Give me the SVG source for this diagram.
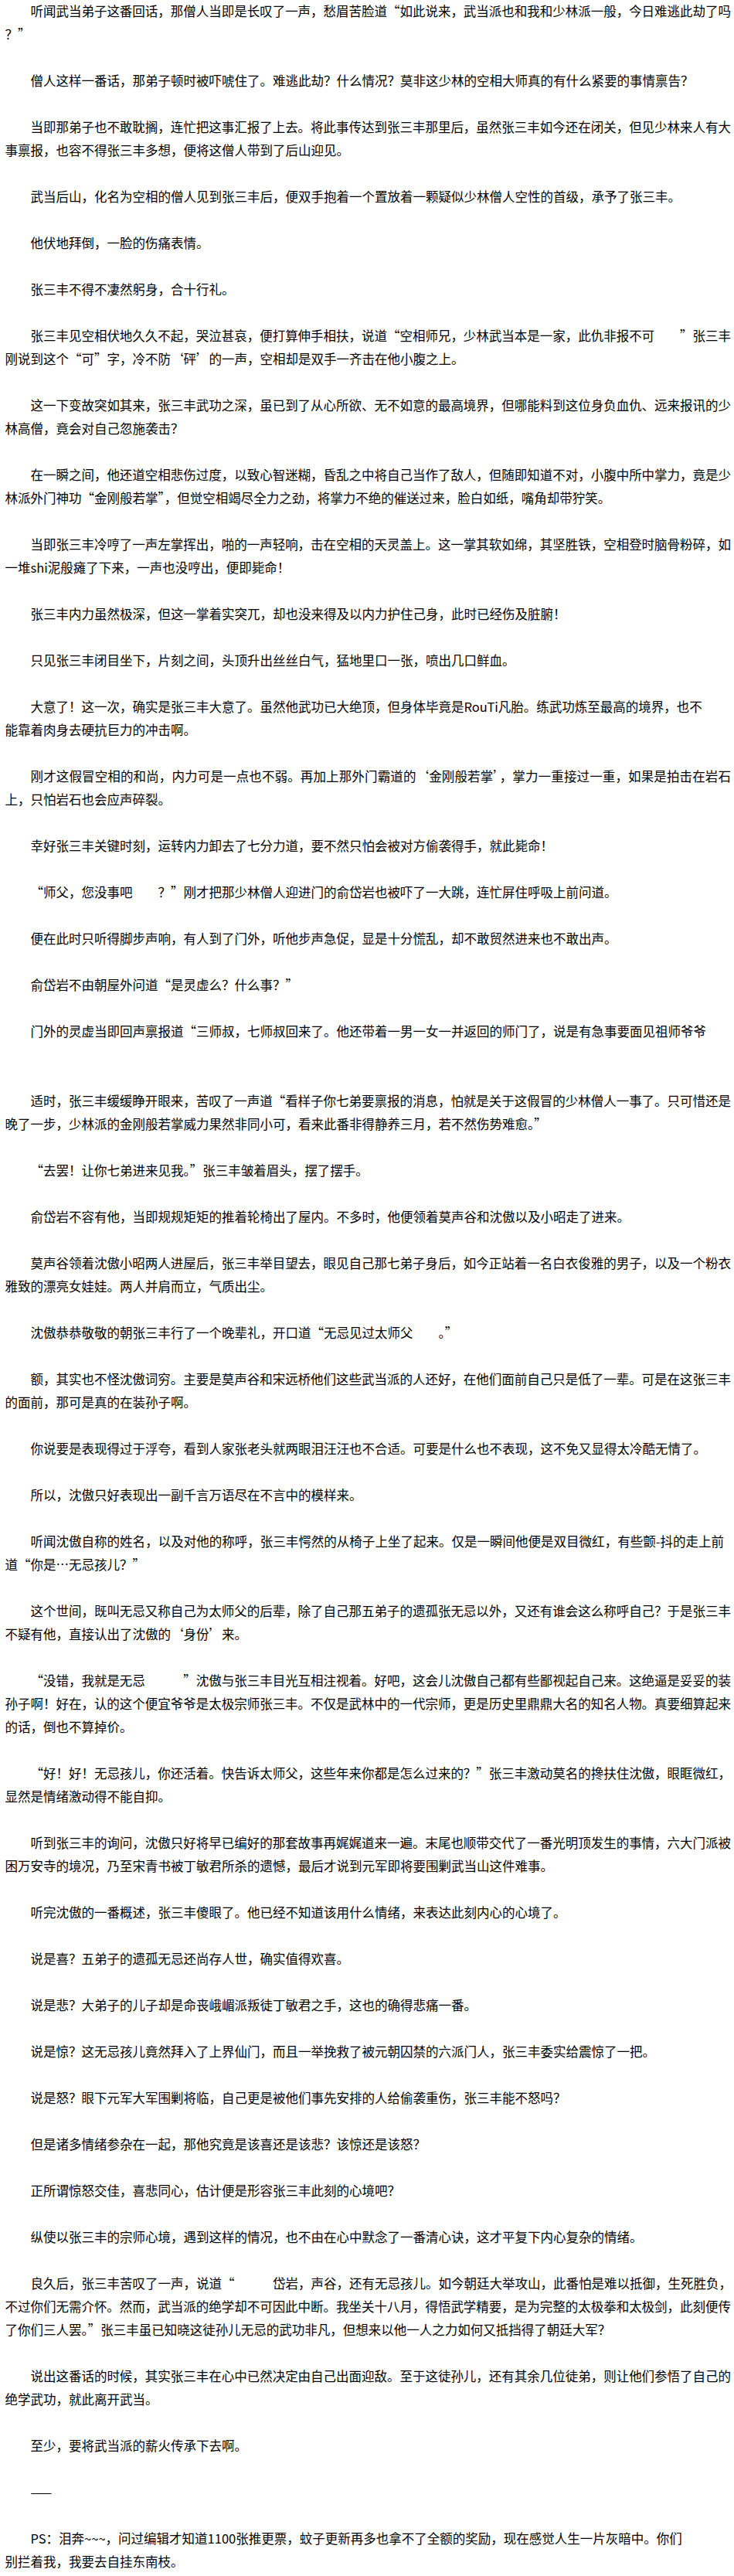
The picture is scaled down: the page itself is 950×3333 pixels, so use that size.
<svg xmlns="http://www.w3.org/2000/svg" width="950" height="3333" viewBox="0 0 950 3333">
<style>
.t{font-family:"Noto Sans CJK SC","Noto Sans CJK JP",sans-serif;font-size:16.5px;fill:#000;}
</style>
<rect x="0" y="0" width="950" height="3333" fill="#fff"/>
<g id="p1"><text class="t" x="39.5" y="21" textLength="906.5">听闻武当弟子这番回话，那僧人当即是长叹了一声，愁眉苦脸道“如此说来，武当派也和我和少林派一般，今日难逃此劫了吗</text><text class="t" x="6.5" y="51">？”</text></g>
<g id="p2"><text class="t" x="39.5" y="111">僧人这样一番话，那弟子顿时被吓唬住了。难逃此劫？什么情况？莫非这少林的空相大师真的有什么紧要的事情禀告？</text></g>
<g id="p3"><text class="t" x="39.5" y="171" textLength="906.5">当即那弟子也不敢耽搁，连忙把这事汇报了上去。将此事传达到张三丰那里后，虽然张三丰如今还在闭关，但见少林来人有大</text><text class="t" x="6.5" y="201">事禀报，也容不得张三丰多想，便将这僧人带到了后山迎见。</text></g>
<g id="p4"><text class="t" x="39.5" y="261">武当后山，化名为空相的僧人见到张三丰后，便双手抱着一个置放着一颗疑似少林僧人空性的首级，承予了张三丰。</text></g>
<g id="p5"><text class="t" x="39.5" y="321">他伏地拜倒，一脸的伤痛表情。</text></g>
<g id="p6"><text class="t" x="39.5" y="381">张三丰不得不凄然躬身，合十行礼。</text></g>
<g id="p7"><text class="t" x="39.5" y="441" textLength="906.5">张三丰见空相伏地久久不起，哭泣甚哀，便打算伸手相扶，说道“空相师兄，少林武当本是一家，此仇非报不可　　”张三丰</text><text class="t" x="6.5" y="471">刚说到这个“可”字，冷不防‘砰’的一声，空相却是双手一齐击在他小腹之上。</text></g>
<g id="p8"><text class="t" x="39.5" y="531" textLength="906.5">这一下变故突如其来，张三丰武功之深，虽已到了从心所欲、无不如意的最高境界，但哪能料到这位身负血仇、远来报讯的少</text><text class="t" x="6.5" y="561">林高僧，竟会对自己忽施袭击？</text></g>
<g id="p9"><text class="t" x="39.5" y="621" textLength="906.5">在一瞬之间，他还道空相悲伤过度，以致心智迷糊，昏乱之中将自己当作了敌人，但随即知道不对，小腹中所中掌力，竟是少</text><text class="t" x="6.5" y="651">林派外门神功“金刚般若掌”，但觉空相竭尽全力之劲，将掌力不绝的催送过来，脸白如纸，嘴角却带狞笑。</text></g>
<g id="p10"><text class="t" x="39.5" y="711" textLength="906.5">当即张三丰冷哼了一声左掌挥出，啪的一声轻响，击在空相的天灵盖上。这一掌其软如绵，其坚胜铁，空相登时脑骨粉碎，如</text><text class="t" x="6.5" y="741">一堆shi泥般瘫了下来，一声也没哼出，便即毙命！</text></g>
<g id="p11"><text class="t" x="39.5" y="801">张三丰内力虽然极深，但这一掌着实突兀，却也没来得及以内力护住己身，此时已经伤及脏腑！</text></g>
<g id="p12"><text class="t" x="39.5" y="861">只见张三丰闭目坐下，片刻之间，头顶升出丝丝白气，猛地里口一张，喷出几口鲜血。</text></g>
<g id="p13"><text class="t" x="39.5" y="921">大意了！这一次，确实是张三丰大意了。虽然他武功已大绝顶，但身体毕竟是RouTi凡胎。练武功炼至最高的境界，也不</text><text class="t" x="6.5" y="951">能靠着肉身去硬抗巨力的冲击啊。</text></g>
<g id="p14"><text class="t" x="39.5" y="1011" textLength="906.5">刚才这假冒空相的和尚，内力可是一点也不弱。再加上那外门霸道的‘金刚般若掌’，掌力一重接过一重，如果是拍击在岩石</text><text class="t" x="6.5" y="1041">上，只怕岩石也会应声碎裂。</text></g>
<g id="p15"><text class="t" x="39.5" y="1101">幸好张三丰关键时刻，运转内力卸去了七分力道，要不然只怕会被对方偷袭得手，就此毙命！</text></g>
<g id="p16"><text class="t" x="39.5" y="1161">“师父，您没事吧　　？”刚才把那少林僧人迎进门的俞岱岩也被吓了一大跳，连忙屏住呼吸上前问道。</text></g>
<g id="p17"><text class="t" x="39.5" y="1221">便在此时只听得脚步声响，有人到了门外，听他步声急促，显是十分慌乱，却不敢贸然进来也不敢出声。</text></g>
<g id="p18"><text class="t" x="39.5" y="1281">俞岱岩不由朝屋外问道“是灵虚么？什么事？”</text></g>
<g id="p19"><text class="t" x="39.5" y="1341">门外的灵虚当即回声禀报道“三师叔，七师叔回来了。他还带着一男一女一并返回的师门了，说是有急事要面见祖师爷爷</text></g>
<g id="p20"><text class="t" x="39.5" y="1431" textLength="906.5">适时，张三丰缓缓睁开眼来，苦叹了一声道“看样子你七弟要禀报的消息，怕就是关于这假冒的少林僧人一事了。只可惜还是</text><text class="t" x="6.5" y="1461">晚了一步，少林派的金刚般若掌威力果然非同小可，看来此番非得静养三月，若不然伤势难愈。”</text></g>
<g id="p21"><text class="t" x="39.5" y="1521">“去罢！让你七弟进来见我。”张三丰皱着眉头，摆了摆手。</text></g>
<g id="p22"><text class="t" x="39.5" y="1581">俞岱岩不容有他，当即规规矩矩的推着轮椅出了屋内。不多时，他便领着莫声谷和沈傲以及小昭走了进来。</text></g>
<g id="p23"><text class="t" x="39.5" y="1641" textLength="906.5">莫声谷领着沈傲小昭两人进屋后，张三丰举目望去，眼见自己那七弟子身后，如今正站着一名白衣俊雅的男子，以及一个粉衣</text><text class="t" x="6.5" y="1671">雅致的漂亮女娃娃。两人并肩而立，气质出尘。</text></g>
<g id="p24"><text class="t" x="39.5" y="1731">沈傲恭恭敬敬的朝张三丰行了一个晚辈礼，开口道“无忌见过太师父　　。”</text></g>
<g id="p25"><text class="t" x="39.5" y="1791" textLength="906.5">额，其实也不怪沈傲词穷。主要是莫声谷和宋远桥他们这些武当派的人还好，在他们面前自己只是低了一辈。可是在这张三丰</text><text class="t" x="6.5" y="1821">的面前，那可是真的在装孙子啊。</text></g>
<g id="p26"><text class="t" x="39.5" y="1881">你说要是表现得过于浮夸，看到人家张老头就两眼泪汪汪也不合适。可要是什么也不表现，这不免又显得太冷酷无情了。</text></g>
<g id="p27"><text class="t" x="39.5" y="1941">所以，沈傲只好表现出一副千言万语尽在不言中的模样来。</text></g>
<g id="p28"><text class="t" x="39.5" y="2001" textLength="897.5">听闻沈傲自称的姓名，以及对他的称呼，张三丰愕然的从椅子上坐了起来。仅是一瞬间他便是双目微红，有些颤-抖的走上前</text><text class="t" x="6.5" y="2031">道“你是…无忌孩儿？”</text></g>
<g id="p29"><text class="t" x="39.5" y="2091" textLength="906.5">这个世间，既叫无忌又称自己为太师父的后辈，除了自己那五弟子的遗孤张无忌以外，又还有谁会这么称呼自己？于是张三丰</text><text class="t" x="6.5" y="2121">不疑有他，直接认出了沈傲的‘身份’来。</text></g>
<g id="p30"><text class="t" x="39.5" y="2181" textLength="906.5">“没错，我就是无忌　　　”沈傲与张三丰目光互相注视着。好吧，这会儿沈傲自己都有些鄙视起自己来。这绝逼是妥妥的装</text><text class="t" x="6.5" y="2211" textLength="939.5">孙子啊！好在，认的这个便宜爷爷是太极宗师张三丰。不仅是武林中的一代宗师，更是历史里鼎鼎大名的知名人物。真要细算起来</text><text class="t" x="6.5" y="2241">的话，倒也不算掉价。</text></g>
<g id="p31"><text class="t" x="39.5" y="2301" textLength="906.5">“好！好！无忌孩儿，你还活着。快告诉太师父，这些年来你都是怎么过来的？”张三丰激动莫名的搀扶住沈傲，眼眶微红，</text><text class="t" x="6.5" y="2331">显然是情绪激动得不能自抑。</text></g>
<g id="p32"><text class="t" x="39.5" y="2391" textLength="906.5">听到张三丰的询问，沈傲只好将早已编好的那套故事再娓娓道来一遍。末尾也顺带交代了一番光明顶发生的事情，六大门派被</text><text class="t" x="6.5" y="2421">困万安寺的境况，乃至宋青书被丁敏君所杀的遗憾，最后才说到元军即将要围剿武当山这件难事。</text></g>
<g id="p33"><text class="t" x="39.5" y="2481">听完沈傲的一番概述，张三丰傻眼了。他已经不知道该用什么情绪，来表达此刻内心的心境了。</text></g>
<g id="p34"><text class="t" x="39.5" y="2541">说是喜？五弟子的遗孤无忌还尚存人世，确实值得欢喜。</text></g>
<g id="p35"><text class="t" x="39.5" y="2601">说是悲？大弟子的儿子却是命丧峨嵋派叛徒丁敏君之手，这也的确得悲痛一番。</text></g>
<g id="p36"><text class="t" x="39.5" y="2661">说是惊？这无忌孩儿竟然拜入了上界仙门，而且一举挽救了被元朝囚禁的六派门人，张三丰委实给震惊了一把。</text></g>
<g id="p37"><text class="t" x="39.5" y="2721">说是怒？眼下元军大军围剿将临，自己更是被他们事先安排的人给偷袭重伤，张三丰能不怒吗？</text></g>
<g id="p38"><text class="t" x="39.5" y="2781">但是诸多情绪参杂在一起，那他究竟是该喜还是该悲？该惊还是该怒？</text></g>
<g id="p39"><text class="t" x="39.5" y="2841">正所谓惊怒交佳，喜悲同心，估计便是形容张三丰此刻的心境吧？</text></g>
<g id="p40"><text class="t" x="39.5" y="2901">纵使以张三丰的宗师心境，遇到这样的情况，也不由在心中默念了一番清心诀，这才平复下内心复杂的情绪。</text></g>
<g id="p41"><text class="t" x="39.5" y="2961">良久后，张三丰苦叹了一声，说道“　　　岱岩，声谷，还有无忌孩儿。如今朝廷大举攻山，此番怕是难以抵御，生死胜负，</text><text class="t" x="6.5" y="2991" textLength="939.5">不过你们无需介怀。然而，武当派的绝学却不可因此中断。我坐关十八月，得悟武学精要，是为完整的太极拳和太极剑，此刻便传</text><text class="t" x="6.5" y="3021">了你们三人罢。”张三丰虽已知晓这徒孙儿无忌的武功非凡，但想来以他一人之力如何又抵挡得了朝廷大军？</text></g>
<g id="p42"><text class="t" x="39.5" y="3081" textLength="906.5">说出这番话的时候，其实张三丰在心中已然决定由自己出面迎敌。至于这徒孙儿，还有其余几位徒弟，则让他们参悟了自己的</text><text class="t" x="6.5" y="3111">绝学武功，就此离开武当。</text></g>
<g id="p43"><text class="t" x="39.5" y="3171">至少，要将武当派的薪火传承下去啊。</text></g>
<g id="p44"><text class="t" x="39.5" y="3231">——</text></g>
<g id="p45"><text class="t" x="39.5" y="3291">PS：泪奔~~~，问过编辑才知道1100张推更票，蚊子更新再多也拿不了全额的奖励，现在感觉人生一片灰暗中。你们</text><text class="t" x="6.5" y="3321">别拦着我，我要去自挂东南枝。</text></g>
</svg>
